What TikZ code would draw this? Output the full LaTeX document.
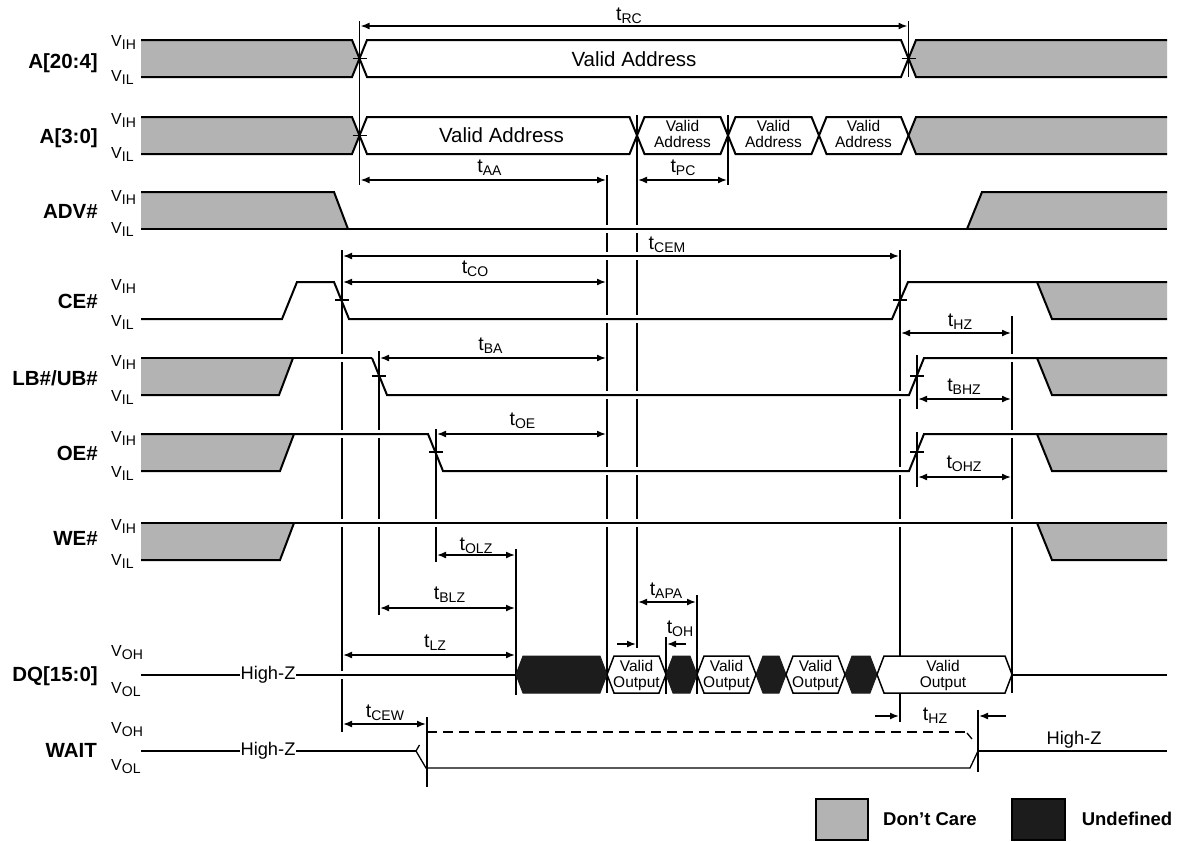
\documentclass[tikz,border=0pt]{standalone}
\usepackage{fontspec}
\setmainfont{Liberation Sans}
\usetikzlibrary{arrows.meta}
\definecolor{dcgray}{RGB}{179,179,179}
\definecolor{undef}{RGB}{28,28,28}
\newcommand\tlab[1]{{\fontsize{19.5}{19.5}\selectfont t\raisebox{-3pt}{\fontsize{14}{14}\selectfont #1}}}
\newcommand\vlab[1]{{\fontsize{16}{16}\selectfont V\raisebox{-3pt}{\fontsize{14}{14}\selectfont #1}}}
\tikzset{
  sigline/.style={line width=2pt, line join=miter, miter limit=10},
  vbar/.style={line width=1.8pt},
  gapmark/.style={fill=white, draw=none},
  dimarr/.style={line width=1.6pt, {Latex[length=9pt,width=7pt]}-{Latex[length=9pt,width=7pt]}},
  onearr/.style={line width=1.6pt, -{Latex[length=9pt,width=7pt]}},
  tickmark/.style={line width=1.6pt},
  siglabel/.style={font=\bfseries\fontsize{20.5}{22}\selectfont, anchor=base east, inner sep=0pt},
  vlabel/.style={anchor=base west, inner sep=0pt},
  tlabel/.style={anchor=base, inner sep=0pt},
  bigtext/.style={anchor=base, inner sep=0pt, font=\fontsize{20.5}{22}\selectfont},
  smalltext/.style={anchor=base, inner sep=0pt, font=\fontsize{15.5}{16}\selectfont},
  hiz/.style={anchor=base, inner sep=1pt, fill=white, font=\fontsize{18.3}{20}\selectfont},
  legtext/.style={anchor=base, inner sep=0pt, font=\bfseries\fontsize{18.5}{20}\selectfont},
  undefhex/.style={fill=undef, draw=undef, line width=1pt, line join=miter},
  validhex/.style={fill=white, draw=black, line width=1.5pt, line join=miter}
}
\begin{document}
\begin{tikzpicture}[x=1pt, y=-1pt]
\useasboundingbox (0,0) rectangle (1182,841);
\fill[white] (0,0) rectangle (1182,841);

% ---------------- signal labels ----------------
\node[siglabel] (lA20) at (98,68) {A[20:4]};
\node[siglabel] (lA3) at (98,143.5) {A[3:0]};
\node[siglabel] (lADV) at (98,218.5) {ADV\#};
\node[siglabel] (lCE) at (98,308) {CE\#};
\node[siglabel] (lLB) at (98,385) {LB\#/UB\#};
\node[siglabel] (lOE) at (98,460.5) {OE\#};
\node[siglabel] (lWE) at (98,545) {WE\#};
\node[siglabel] (lDQ) at (98,681.5) {DQ[15:0]};
\node[siglabel] (lWAIT) at (97,757) {WAIT};

% V labels
\foreach \n/\yh/\yl in {a/46.5/81.5, b/124/158, c/201.5/233, d/290/326, e/366/401.5, f/442/477, g/530/565} {
  \node[vlabel] (vih\n) at (111,\yh) {\vlab{IH}};
  \node[vlabel] (vil\n) at (111,\yl) {\vlab{IL}};
}
\foreach \n/\yh/\yl in {h/656.5/693, i/733/770} {
  \node[vlabel] (voh\n) at (111,\yh) {\vlab{OH}};
  \node[vlabel] (vol\n) at (111,\yl) {\vlab{OL}};
}

% ---------------- don't-care fills ----------------
\fill[dcgray] (141,40)--(352,40)--(359.5,58.5)--(352,77)--(141,77)--cycle;
\fill[dcgray] (1167,40)--(916,40)--(908.5,58.5)--(916,77)--(1167,77)--cycle;
\fill[dcgray] (141,117)--(352,117)--(359.5,135.5)--(352,154)--(141,154)--cycle;
\fill[dcgray] (1167,117)--(916,117)--(908.5,135.5)--(916,154)--(1167,154)--cycle;
\fill[dcgray] (141,192)--(334,192)--(348,229)--(141,229)--cycle;
\fill[dcgray] (967,229)--(982,192)--(1167,192)--(1167,229)--cycle;
\fill[dcgray] (1037,282)--(1167,282)--(1167,319)--(1052,319)--cycle;
\fill[dcgray] (141,358)--(293,358)--(279,395)--(141,395)--cycle;
\fill[dcgray] (1037,358)--(1167,358)--(1167,395)--(1052,395)--cycle;
\fill[dcgray] (141,434)--(294,434)--(280,471)--(141,471)--cycle;
\fill[dcgray] (1037,434)--(1167,434)--(1167,471)--(1052,471)--cycle;
\fill[dcgray] (141,523)--(294,523)--(280,560)--(141,560)--cycle;
\fill[dcgray] (1037,523)--(1167,523)--(1167,560)--(1052,560)--cycle;

% ---------------- vertical reference lines ----------------
\coordinate (v1t) at (359.5,21);   \coordinate (v1b) at (359.5,185);
\coordinate (v2t) at (908.5,21);   \coordinate (v2b) at (908.5,77);
\coordinate (v3t) at (637,115);    \coordinate (v3b) at (637,648);
\coordinate (v4t) at (728,115);    \coordinate (v4b) at (728,185);
\coordinate (v5t) at (607,175);    \coordinate (v5b) at (607,693);
\coordinate (v6t) at (342,250);    \coordinate (v6b) at (342,732);
\coordinate (v7t) at (900,250);    \coordinate (v7b) at (900,722);
\coordinate (v8t) at (1012,316);   \coordinate (v8b) at (1012,693);
\coordinate (v9t) at (379,351);    \coordinate (v9b) at (379,615);
\coordinate (v10t) at (917,355);   \coordinate (v10b) at (917,409);
\coordinate (v11t) at (917,432);   \coordinate (v11b) at (917,487);
\coordinate (v12t) at (436,429);   \coordinate (v12b) at (436,562);
\coordinate (v13t) at (516,549);   \coordinate (v13b) at (516,695);
\coordinate (v14t) at (697,595);   \coordinate (v14b) at (697,694);
\coordinate (v15t) at (666,637);   \coordinate (v15b) at (666,694);
\coordinate (v16t) at (978,710);   \coordinate (v16b) at (978,772);
\coordinate (v17t) at (427,717);   \coordinate (v17b) at (427,787);
\foreach \i in {1,...,17} \draw[vbar] (v\i t)--(v\i b);

% small breaks where reference lines pass behind horizontal lines
\foreach \x/\y in {607/229, 607/256, 607/319, 607/395, 607/471, 607/523,
                   637/229, 637/256, 637/319, 637/395, 637/471, 637/523,
                   342/358, 342/434, 342/523, 342/675,
                   379/434, 379/523, 436/523,
                   900/395, 900/471, 900/523,
                   1012/358, 1012/434, 1012/523}
  \fill[gapmark] (\x-1.5,\y-3.8) rectangle (\x+1.5,\y+3.8);

% ---------------- A[20:4] ----------------
\draw[sigline] (141,40)--(352,40)--(367,77)--(901,77)--(916,40)--(1167,40);
\draw[sigline] (141,77)--(352,77)--(367,40)--(901,40)--(916,77)--(1167,77);
\node[bigtext] (va1) at (634,66.5) {Valid Address};

% ---------------- A[3:0] ----------------
\draw[sigline] (141,117)--(352,117)--(367,154)--(629.5,154)--(644.5,117)--(720.5,117)--(735.5,154)--(811.5,154)--(826.5,117)--(901,117)--(916,154)--(1167,154);
\draw[sigline] (141,154)--(352,154)--(367,117)--(629.5,117)--(644.5,154)--(720.5,154)--(735.5,117)--(811.5,117)--(826.5,154)--(901,154)--(916,117)--(1167,117);
\node[bigtext] (va2) at (501.5,142.3) {Valid Address};
\foreach \i/\x in {1/682.5, 2/773.5, 3/863.5} {
  \node[smalltext] (sva\i) at (\x,131.7) {Valid};
  \node[smalltext] (svb\i) at (\x,147.7) {Address};
}

% ---------------- ADV# ----------------
\draw[sigline] (141,192)--(334,192)--(348,229);
\draw[sigline] (141,229)--(1167,229);
\draw[sigline] (967,229)--(982,192)--(1167,192);

% ---------------- CE# ----------------
\draw[sigline] (141,319)--(282,319)--(297,282)--(334,282)--(349,319)--(892,319)--(908,282)--(1167,282);
\draw[sigline] (1037,282)--(1052,319)--(1167,319);

% ---------------- LB#/UB# ----------------
\draw[sigline] (141,395)--(279,395)--(293,358);
\draw[line width=1.1pt] (141,358)--(372,358);
\draw[sigline] (372,358)--(387,395)--(909,395)--(924,358)--(1167,358);
\draw[sigline] (1037,358)--(1052,395)--(1167,395);

% ---------------- OE# ----------------
\draw[sigline] (141,471)--(280,471)--(294,434);
\draw[sigline] (141,434)--(428,434)--(443,471)--(909,471)--(924,434)--(1167,434);
\draw[sigline] (1037,434)--(1052,471)--(1167,471);

% ---------------- WE# ----------------
\draw[sigline] (141,560)--(280,560)--(294,523);
\draw[sigline] (141,523)--(1167,523);
\draw[sigline] (1037,523)--(1052,560)--(1167,560);

% ---------------- DQ[15:0] ----------------
\draw[sigline] (141,674.5)--(516,674.5);
\draw[sigline] (1012,674.5)--(1167,674.5);
\foreach \a/\b in {516/607, 666/697, 756/786, 845/877}
  \filldraw[undefhex] (\a,674.5)--(\a+7,656)--(\b-7,656)--(\b,674.5)--(\b-7,693)--(\a+7,693)--cycle;
\foreach \a/\b in {607/666, 697/756, 786/845, 877/1012}
  \filldraw[validhex] (\a,674.5)--(\a+7,656)--(\b-7,656)--(\b,674.5)--(\b-7,693)--(\a+7,693)--cycle;
\foreach \i/\x in {1/636.5, 2/726.5, 3/815.5, 4/943} {
  \node[smalltext] (voa\i) at (\x,671.5) {Valid};
  \node[smalltext] (vob\i) at (\x,687) {Output};
}
\node[hiz] (hz1) at (268,679.5) {High-Z};

% ---------------- WAIT ----------------
\draw[sigline] (141,751)--(416,751);
\draw[line width=1.3pt, line join=miter] (416,751)--(426,768)--(970,768)--(978,751);
\draw[sigline] (978,751)--(1167,751);
\draw[line width=1.3pt] (416,751)--(419.5,745);
\draw[line width=1.6pt, dash pattern=on 10pt off 6pt] (427,732)--(966,732);
\draw[line width=1.3pt] (967,733)--(972,739);
\node[hiz] (hz2) at (268,755) {High-Z};
\node[anchor=base, inner sep=0pt, font=\fontsize{18.3}{20}\selectfont] (hz3) at (1074,744) {High-Z};

% ticks
\draw[tickmark] (352.5,58.5)--(366.5,58.5);
\draw[tickmark] (352.5,135.5)--(366.5,135.5);
\draw[tickmark] (901.5,58.5)--(915.5,58.5);
\draw[tickmark] (335,300)--(349,300);
\draw[tickmark] (893,300)--(907,300);
\draw[tickmark] (372,376)--(386,376);
\draw[tickmark] (910,376)--(924,376);
\draw[tickmark] (429,452)--(443,452);
\draw[tickmark] (910,452)--(924,452);

% ---------------- timing arrows ----------------
\draw[dimarr] (360.5,26)--(907.5,26);
\node[tlabel] (tRC) at (629,20) {\tlab{RC}};
\draw[dimarr] (360.5,180)--(606,180);
\node[tlabel] (tAA) at (489.5,172) {\tlab{AA}};
\draw[dimarr] (638,180)--(727,180);
\node[tlabel] (tPC) at (683,172) {\tlab{PC}};
\draw[dimarr] (343,256)--(899,256);
\node[tlabel] (tCEM) at (667,249) {\tlab{CEM}};
\draw[dimarr] (343,282)--(606,282);
\node[tlabel] (tCO) at (475,273) {\tlab{CO}};
\draw[dimarr] (901,333)--(1011,333);
\node[tlabel] (tHZa) at (960,326.5) {\tlab{HZ}};
\draw[dimarr] (380,358)--(606,358);
\node[tlabel] (tBA) at (490.5,350) {\tlab{BA}};
\draw[dimarr] (918,399)--(1011,399);
\node[tlabel] (tBHZ) at (964,391.5) {\tlab{BHZ}};
\draw[dimarr] (437,434)--(606,434);
\node[tlabel] (tOE) at (522.5,425) {\tlab{OE}};
\draw[dimarr] (918,477)--(1011,477);
\node[tlabel] (tOHZ) at (964,468.5) {\tlab{OHZ}};
\draw[dimarr] (437,555)--(515,555);
\node[tlabel] (tOLZ) at (476,550) {\tlab{OLZ}};
\draw[dimarr] (380,608)--(515,608);
\node[tlabel] (tBLZ) at (449.5,599) {\tlab{BLZ}};
\draw[dimarr] (343,655)--(515,655);
\node[tlabel] (tLZ) at (435,647) {\tlab{LZ}};
\draw[dimarr] (638,602)--(696,602);
\node[tlabel] (tAPA) at (666,595) {\tlab{APA}};
\coordinate (oha) at (617,644);
\coordinate (ohb) at (686,644);
\draw[onearr] (oha)--(636,644);
\draw[onearr] (ohb)--(667,644);
\node[tlabel] (tOH) at (680,633) {\tlab{OH}};
\draw[dimarr] (343,724)--(426,724);
\node[tlabel] (tCEW) at (385,717) {\tlab{CEW}};
\coordinate (hza) at (875,716);
\coordinate (hzb) at (1006,716);
\draw[onearr] (hza)--(899,716);
\draw[onearr] (hzb)--(979,716);
\node[tlabel] (tHZb) at (935,720) {\tlab{HZ}};

% ---------------- legend ----------------
\draw[line width=2pt, fill=dcgray] (816,799) rectangle (868,840);
\node[legtext] (ldc) at (930,825) {Don’t Care};
\draw[line width=2pt, fill=undef] (1012,799) rectangle (1065,840);
\node[legtext] (lud) at (1127,825) {Undefined};
\end{tikzpicture}
\end{document}
